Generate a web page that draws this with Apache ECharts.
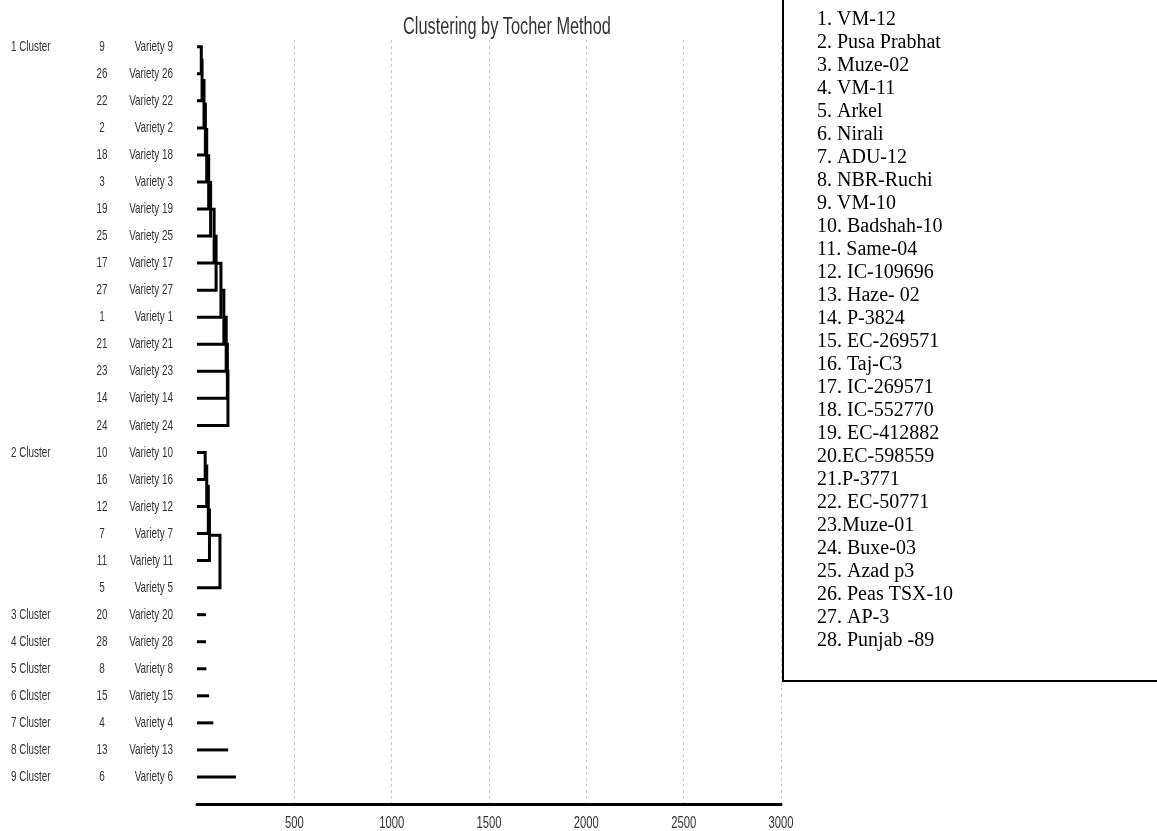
<!DOCTYPE html>
<html>
<head>
<meta charset="utf-8">
<title>Clustering by Tocher Method</title>
<script src="https://cdn.jsdelivr.net/npm/echarts@6/dist/echarts.min.js"></script>
<style>
  html, body { margin: 0; padding: 0; background: #fff; }
  #chart { width: 1157px; height: 831px; }
</style>
</head>
<body>
<div id="chart"></div>
<script>
// clusters, top to bottom, with the variety numbers in drawing order
const clusterNames = ['1 Cluster', '2 Cluster', '3 Cluster', '4 Cluster', '5 Cluster', '6 Cluster', '7 Cluster', '8 Cluster', '9 Cluster']
const clusterMembers = [
  [9, 26, 22, 2, 18, 3, 19, 25, 17, 27, 1, 21, 23, 14, 24],
  [10, 16, 12, 7, 11, 5],
  [20],
  [28],
  [8],
  [15],
  [4],
  [13],
  [6]
]
// distance at which each variety joins the group above it
// (single-variety clusters: length of the stub)
const clusterJoins = [
  [22, 26, 36, 43, 50, 60, 70, 88, 98, 123, 138, 150, 156, 159],
  [42, 50, 58, 64, 118],
  [46],
  [46],
  [48],
  [62],
  [84],
  [160],
  [200]
]
const xTicks = [500, 1000, 1500, 2000, 2500, 3000]
const varietyNames = [
  '1. VM-12', '2. Pusa Prabhat', '3. Muze-02', '4. VM-11', '5. Arkel', '6. Nirali', '7. ADU-12',
  '8. NBR-Ruchi', '9. VM-10', '10. Badshah-10', '11. Same-04', '12. IC-109696', '13. Haze- 02',
  '14. P-3824', '15. EC-269571', '16. Taj-C3', '17. IC-269571', '18. IC-552770', '19. EC-412882',
  '20.EC-598559', '21.P-3771', '22. EC-50771', '23.Muze-01', '24. Buxe-03', '25. Azad p3',
  '26. Peas TSX-10', '27. AP-3', '28. Punjab -89'
]

const sans = '"Liberation Sans", Arial, sans-serif'
const serif = '"Liberation Serif", "Times New Roman", serif'
const squeeze = 0.66 // the original uses a very condensed face

// one row per variety, and the dendrogram paths in data units (distance, row)
const rows = []
const paths = []
let r0 = 0
clusterMembers.forEach(function (members, c) {
  const joins = clusterJoins[c]
  members.forEach(function (v, k) {
    rows.push({ row: r0 + k, cluster: k === 0 ? clusterNames[c] : '', variety: v })
  })
  if (members.length === 1) {
    paths.push([[0, r0], [joins[0], r0]])
  } else {
    paths.push([[0, r0], [joins[0], r0], [joins[0], r0 + 1], [0, r0 + 1]])
    let nodeX = joins[0]
    let nodeY = r0 + 0.5
    for (let k = 2; k < members.length; k++) {
      const h = joins[k - 1]
      paths.push([[nodeX, nodeY], [h, nodeY], [h, r0 + k], [0, r0 + k]])
      nodeX = h
      nodeY = (nodeY + r0 + k) / 2
    }
  }
  r0 += members.length
})
const nRows = r0

function narrowText(text, x, y, size, align, vAlign) {
  return {
    type: 'text',
    x: x,
    y: y,
    scaleX: squeeze,
    style: {
      text: text, x: 0, y: 0,
      font: size + 'px ' + sans,
      fill: '#333',
      align: align, verticalAlign: vAlign || 'middle'
    }
  }
}

const myChart = echarts.init(document.getElementById('chart'))

const graphics = [
  {
    type: 'rect',
    shape: { x: 783, y: -10, width: 400, height: 691 },
    style: { fill: '#fff', stroke: '#000', lineWidth: 2 },
    z: 10
  },
  Object.assign(narrowText('Clustering by Tocher Method', 403, 28, 23, 'left'), { scaleX: 0.71, z: 10 })
].concat(varietyNames.map(function (name, i) {
  return {
    type: 'text',
    x: 817,
    y: 20 + i * 23,
    z: 11,
    style: {
      text: name,
      font: '20px ' + serif,
      fill: '#000',
      verticalAlign: 'middle'
    }
  }
}))

myChart.setOption({
  backgroundColor: '#fff',
  animation: false,
  grid: { left: 197, right: 376, top: 40, bottom: 27 },
  xAxis: {
    type: 'value',
    min: 0,
    max: 3000,
    interval: 500,
    axisLine: { show: true, onZero: false, lineStyle: { color: '#000', width: 3 } },
    axisTick: { show: false },
    axisLabel: { show: false },
    splitLine: {
      show: true,
      showMinLine: false,
      lineStyle: { color: '#c8c8c8', type: [3, 3], width: 1 }
    }
  },
  yAxis: {
    type: 'value',
    inverse: true,
    min: -0.25,
    max: nRows,
    show: false,
    splitLine: { show: false }
  },
  graphic: graphics,
  series: [
    {
      type: 'custom',
      silent: true,
      data: paths.map(function (p) { return [p[1][0], p[1][1]] }),
      encode: { x: 0, y: 1 },
      renderItem: function (params, api) {
        const pts = paths[params.dataIndex].map(function (p) { return api.coord(p) })
        return {
          type: 'polyline',
          shape: { points: pts },
          style: { stroke: '#000', lineWidth: 3, fill: null, lineJoin: 'miter' }
        }
      }
    },
    {
      // row labels: cluster, variety number, variety name
      type: 'custom',
      silent: true,
      data: rows.map(function (d) { return [0, d.row] }),
      encode: { x: 0, y: 1 },
      renderItem: function (params, api) {
        const d = rows[params.dataIndex]
        const p = api.coord([api.value(0), api.value(1)])
        const children = [
          narrowText(String(d.variety), p[0] - 95, p[1], 15, 'center'),
          narrowText('Variety ' + d.variety, p[0] - 24, p[1], 15, 'right')
        ]
        if (d.cluster) children.push(narrowText(d.cluster, p[0] - 186, p[1], 15, 'left'))
        return { type: 'group', children: children }
      }
    },
    {
      // tick labels under the distance axis
      type: 'custom',
      silent: true,
      data: xTicks.map(function (t) { return [t, nRows] }),
      encode: { x: 0, y: 1 },
      renderItem: function (params, api) {
        const p = api.coord([api.value(0), api.value(1)])
        return narrowText(String(api.value(0)), p[0], p[1] + 19, 17, 'center')
      }
    }
  ]
})
</script>
</body>
</html>
